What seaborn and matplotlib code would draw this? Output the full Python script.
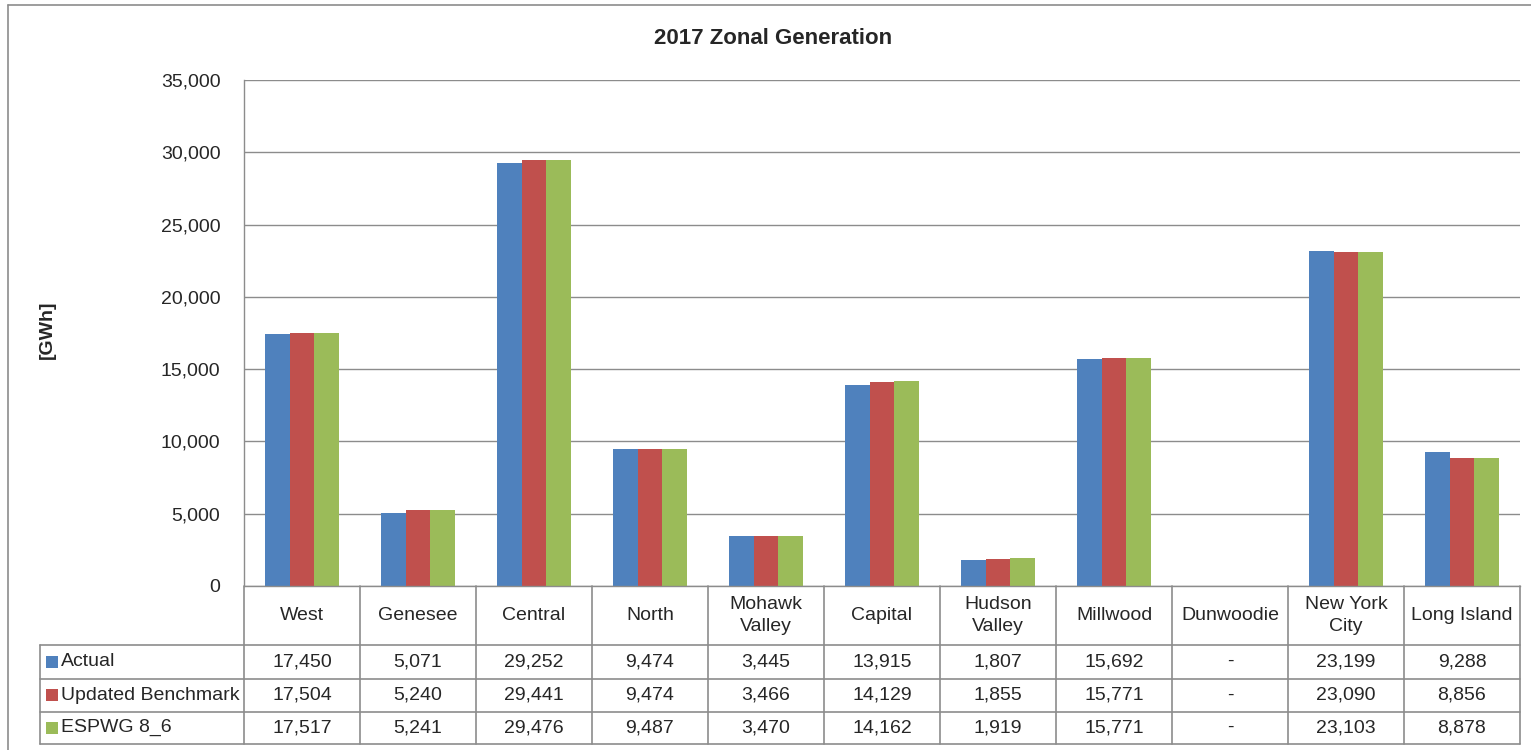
import numpy as np
import pandas as pd
import matplotlib
matplotlib.use("Agg")
import matplotlib.pyplot as plt
import matplotlib.transforms as mtransforms
from matplotlib import font_manager
from matplotlib.lines import Line2D
from matplotlib.patches import Rectangle
from matplotlib.ticker import FuncFormatter
import seaborn as sns

# ---------------------------------------------------------
# DATA
# ---------------------------------------------------------
zones = ["West", "Genesee", "Central", "North", "Mohawk Valley", "Capital",
         "Hudson Valley", "Millwood", "Dunwoodie", "New York City", "Long Island"]
zone_labels = ["West", "Genesee", "Central", "North", "Mohawk\nValley", "Capital",
               "Hudson\nValley", "Millwood", "Dunwoodie", "New York\nCity", "Long Island"]
series = ["Actual", "Updated Benchmark", "ESPWG 8_6"]
actual = [17450, 5071, 29252, 9474, 3445, 13915, 1807, 15692, 0, 23199, 9288]
benchmark = [17504, 5240, 29441, 9474, 3466, 14129, 1855, 15771, 0, 23090, 8856]
espwg = [17517, 5241, 29476, 9487, 3470, 14162, 1919, 15771, 0, 23103, 8878]
yticks = [0, 5000, 10000, 15000, 20000, 25000, 30000, 35000]
colors = ["#4F81BD", "#C0504D", "#9BBB59"]

df = pd.DataFrame({
    "zone": zones * 3,
    "series": [s for s in series for _ in zones],
    "value": actual + benchmark + espwg,
})

# ---------------------------------------------------------
# STYLE
# ---------------------------------------------------------
sns.set_style("white")
installed = {f.name for f in font_manager.fontManager.ttflist}
main_font = "Liberation Sans Narrow" if "Liberation Sans Narrow" in installed else "Liberation Sans"
plt.rcParams["font.family"] = [main_font, "DejaVu Sans"]
fs = 14
grid_col = "#8C8C8C"

W, H = 1531, 750
fig = plt.figure(figsize=(W / 100, H / 100), dpi=100)

# pixel layout of the plot area
left_px, right_px, top_px, bottom_px = 244, 1520, 80, 586
ax = fig.add_axes([left_px / W, 1 - bottom_px / H,
                   (right_px - left_px) / W, (bottom_px - top_px) / H])

sns.barplot(data=df, x="zone", y="value", hue="series", order=zones,
            hue_order=series, palette=colors, saturation=1, width=0.64, gap=0,
            linewidth=0, legend=False, ax=ax)

ax.set_xlim(-0.5, len(zones) - 0.5)
ax.set_ylim(0, 35000)
ax.set_yticks(yticks)
ax.yaxis.set_major_formatter(FuncFormatter(lambda v, p: f"{int(v):,}"))
ax.tick_params(axis="y", length=0, pad=17, labelsize=fs)
ax.set_xticks([])
ax.set_xlabel("")
ax.set_ylabel("")
ax.yaxis.grid(True, color=grid_col, linewidth=1)
ax.set_axisbelow(True)
for side in ["top", "right"]:
    ax.spines[side].set_visible(False)
for side in ["left", "bottom"]:
    ax.spines[side].set_color(grid_col)
    ax.spines[side].set_linewidth(1)

fig.text(773 / W, 1 - 38 / H, "2017 Zonal Generation", ha="center", va="center",
         fontsize=16, fontweight="bold")
fig.text(47 / W, 1 - 330 / H, "[GWh]", ha="center", va="center", rotation=90,
         fontsize=fs, fontweight="bold")

# ---------------------------------------------------------
# DATA TABLE under the axis
# ---------------------------------------------------------
trans = mtransforms.blended_transform_factory(ax.transData, fig.transFigure)
row_lines_px = [586, 645, 678.5, 711.5, 744]
row_y = [1 - v / H for v in row_lines_px]
table_left_px = 40
line_kw = dict(color=grid_col, linewidth=1.2)

# horizontal lines
for y in row_y[1:]:
    fig.add_artist(Line2D([table_left_px / W, right_px / W], [y, y],
                          transform=fig.transFigure, **line_kw))
# vertical lines at category boundaries
for i in range(len(zones) + 1):
    fig.add_artist(Line2D([i - 0.5, i - 0.5], [row_y[0], row_y[-1]],
                          transform=trans, **line_kw))
fig.add_artist(Line2D([table_left_px / W] * 2, [row_y[1], row_y[-1]],
                      transform=fig.transFigure, **line_kw))

# header labels
for i, lab in enumerate(zone_labels):
    fig.text(i, (row_y[0] + row_y[1]) / 2, lab, transform=trans, ha="center",
             va="center", fontsize=fs, linespacing=1.45)

# series rows
for r, (name, vals, col) in enumerate(zip(series, [actual, benchmark, espwg], colors)):
    yc = (row_y[r + 1] + row_y[r + 2]) / 2
    fig.add_artist(Rectangle((46 / W, yc - 6 / H), 12 / W, 12 / H,
                             transform=fig.transFigure, facecolor=col, edgecolor="none"))
    fig.text(61 / W, yc, name, ha="left", va="center", fontsize=fs)
    for i, v in enumerate(vals):
        txt = f"{v:,}" if v else "-"
        fig.text(i, yc, txt, transform=trans, ha="center", va="center", fontsize=fs)

# outer chart frame
fig.add_artist(Line2D([8 / W, 8 / W], [0, 1 - 5 / H], transform=fig.transFigure,
                      color=grid_col, linewidth=1.2))
fig.add_artist(Line2D([8 / W, 1], [1 - 5 / H, 1 - 5 / H], transform=fig.transFigure,
                      color=grid_col, linewidth=1.2))

fig.savefig("out.png", dpi=100)
plt.close(fig)
